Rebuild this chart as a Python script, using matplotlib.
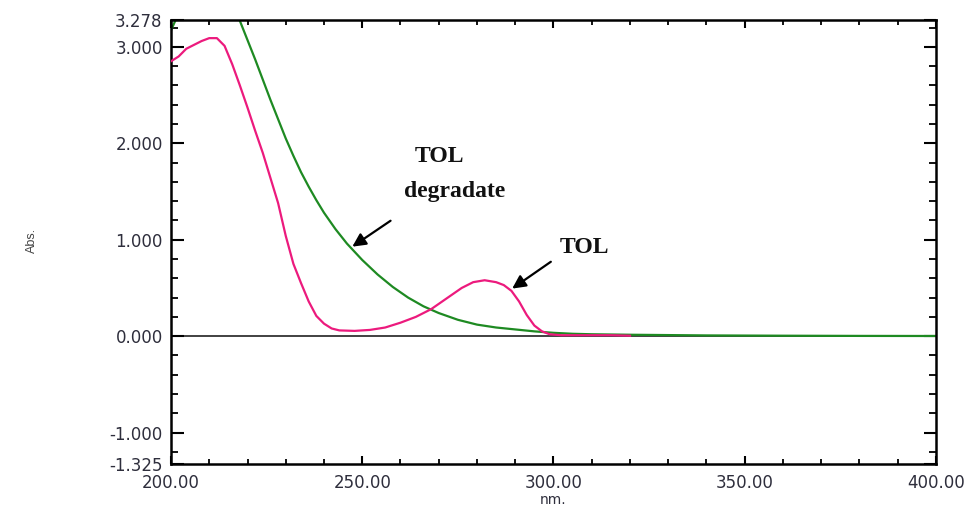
import matplotlib
matplotlib.use("Agg")
import matplotlib.pyplot as plt
from matplotlib.ticker import MultipleLocator, FixedLocator

# --- data ---
wl_tol = [200, 202, 204, 206, 208, 210, 212, 214, 216, 218, 220, 222, 224, 226,
          228, 230, 232, 234, 236, 238, 240, 242, 244, 248, 252, 256, 260, 264,
          268, 272, 276, 279, 282, 285, 287, 289, 291, 293, 295, 297, 299, 302,
          306, 310, 315, 320]
abs_tol = [2.85, 2.90, 2.98, 3.02, 3.06, 3.09, 3.09, 3.01, 2.82, 2.60, 2.37, 2.13,
           1.90, 1.64, 1.38, 1.04, 0.75, 0.55, 0.36, 0.21, 0.13, 0.08, 0.06, 0.055,
           0.065, 0.09, 0.14, 0.20, 0.28, 0.39, 0.50, 0.56, 0.58, 0.56, 0.53, 0.47,
           0.36, 0.22, 0.11, 0.05, 0.02, 0.01, 0.01, 0.01, 0.01, 0.005]

wl_deg = [200, 201, 202, 205, 210, 215, 218, 220, 222, 224, 226, 228, 230, 232,
          234, 236, 238, 240, 243, 246, 250, 254, 258, 262, 266, 270, 275, 280,
          285, 290, 295, 300, 305, 310, 320, 340, 360, 380, 400]
abs_deg = [3.17, 3.26, 3.35, 3.50, 3.60, 3.45, 3.27, 3.07, 2.87, 2.66, 2.45, 2.25,
           2.05, 1.87, 1.70, 1.55, 1.41, 1.28, 1.11, 0.96, 0.79, 0.64, 0.51, 0.40,
           0.31, 0.24, 0.17, 0.12, 0.09, 0.07, 0.05, 0.035, 0.025, 0.02, 0.015,
           0.008, 0.005, 0.003, 0.002]

x_ticks = [200, 250, 300, 350, 400]
x_ticklabels = ["200.00", "250.00", "300.00", "350.00", "400.00"]
y_ticks = [-1.325, -1.0, 0.0, 1.0, 2.0, 3.0, 3.278]
y_ticklabels = ["-1.325", "-1.000", "0.000", "1.000", "2.000", "3.000", "3.278"]

label_color = "#2e2e3c"

fig = plt.figure(figsize=(9.7, 5.08), dpi=100)
ax = fig.add_axes([171 / 970, 1 - 464 / 508, (936 - 171) / 970, (464 - 20) / 508])

ax.axhline(0, color="#333333", lw=1.3, zorder=1)
ax.plot(wl_deg, abs_deg, color="#1e8a22", lw=1.6, zorder=2)
ax.plot(wl_tol, abs_tol, color="#ec1a7d", lw=1.6, zorder=3)

ax.set_xlim(200, 400)
ax.set_ylim(-1.325, 3.278)

ax.xaxis.set_major_locator(FixedLocator(x_ticks))
ax.set_xticklabels(x_ticklabels)
ax.xaxis.set_minor_locator(MultipleLocator(10))
ax.yaxis.set_major_locator(FixedLocator(y_ticks))
ax.set_yticklabels(y_ticklabels)
ax.yaxis.set_minor_locator(MultipleLocator(0.2))

ax.tick_params(axis="x", which="major", direction="in", length=6, width=1.5,
               top=True, bottom=True, pad=7, labelsize=12, labelcolor=label_color)
ax.tick_params(axis="x", which="minor", direction="in", length=3.5, width=1.3,
               top=True, bottom=True)
ax.tick_params(axis="y", which="major", direction="in", length=9, width=1.5,
               left=True, right=True, pad=6, labelsize=12, labelcolor=label_color)
ax.tick_params(axis="y", which="minor", direction="in", length=5, width=1.3,
               left=True, right=True)

for sp in ax.spines.values():
    sp.set_linewidth(1.8)
    sp.set_color("black")

# annotations
ann_font = dict(family="Liberation Serif", fontweight="bold", fontsize=17, color="#111111")
ax.text(270.3, 1.86, "TOL", ha="center", va="center", **ann_font)
ax.text(274.2, 1.50, "degradate", ha="center", va="center", **ann_font)
ax.annotate("", xy=(246.8, 0.912), xytext=(258.0, 1.213),
            arrowprops=dict(arrowstyle="-|>", color="black", lw=1.6, mutation_scale=20))
ax.text(308.2, 0.92, "TOL", ha="center", va="center", **ann_font)
ax.annotate("", xy=(288.6, 0.477), xytext=(299.9, 0.788),
            arrowprops=dict(arrowstyle="-|>", color="black", lw=1.6, mutation_scale=20))

fig.text(553 / 970, 0.5 / 508, "nm.", ha="center", va="bottom",
         fontsize=10, color=label_color)
fig.text(32 / 970, 1 - 240 / 508, "Abs.", ha="center", va="center", rotation=90,
         fontsize=9, color="#444444", family="Liberation Sans")

fig.savefig("out.png", dpi=100)
